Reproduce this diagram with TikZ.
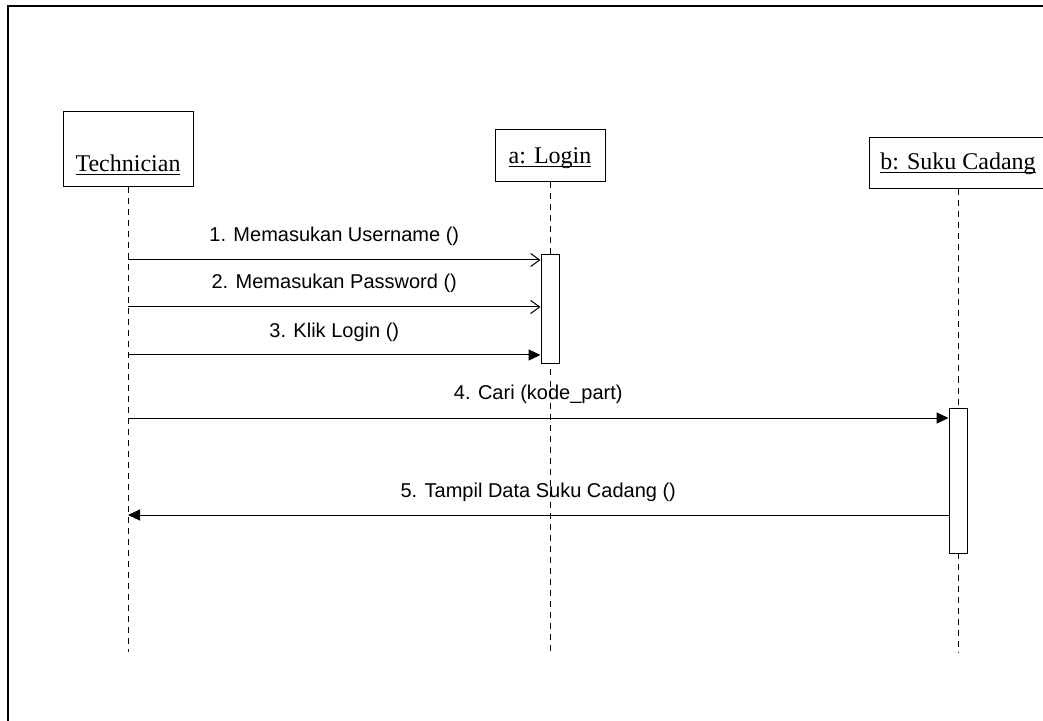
\documentclass[tikz,border=0pt]{standalone}
\usepackage{fontspec}
\setmainfont{Liberation Serif}
\setsansfont{Liberation Sans}
\usetikzlibrary{arrows.meta}
\tikzset{
    object/.style = {draw, fill=white, font=\fontsize{12}{14}\selectfont, inner xsep=3pt, inner ysep=3pt},
    lifeline/.style = {dash pattern=on 3pt off 2.5pt},
    activation/.style = {draw, fill=white, minimum width=9pt, inner sep=0pt},
    call/.style = {-{Triangle[length=6pt,width=5.5pt]}},
    callopen/.style = {-{Straight Barb[length=4.5pt,width=6.5pt]}},
    msglabel/.style = {midway, anchor=base, yshift=9pt, font=\sffamily\fontsize{10}{12}\selectfont}
}
% underline at a fixed depth, through the descenders
\newcommand{\objname}[1]{\underline{\smash{#1}}}

\begin{document}
\begin{tikzpicture}[x=0.5pt, y=-0.5pt, line width=0.5pt]
    \useasboundingbox (0,0) rectangle (1043,721);
    \draw[line width=0.8pt] (8,721) -- (8,6) -- (1043,6);

    % objects
    \node[object, minimum width=65pt, text height=27pt, text depth=4.5pt] (tech) at (128,149) {\objname{Technician}};
    \node[object, minimum width=55pt, text height=14pt, text depth=6pt] (login) at (550,156) {\objname{a: Login}};
    \node[object, minimum width=89pt, text height=13pt, text depth=6.5pt] (suku) at (958,163.5) {\objname{b: Suku Cadang}};

    % lifelines
    \coordinate (tech end) at (128,652);
    \coordinate (login end) at (550,652);
    \coordinate (suku end) at (958,652);
    \draw[lifeline] (tech.south) -- (tech end);
    \draw[lifeline] (login.south) -- (login end);
    \draw[lifeline] (suku.south) -- (suku end);

    \node[activation, minimum height=54.5pt] (act1) at (550,309.5) {};
    \node[activation, minimum height=72.5pt] (act2) at (958,480.5) {};

    % messages
    \coordinate (m1) at (128,260);
    \coordinate (m2) at (128,307);
    \coordinate (m3) at (128,355);
    \coordinate (m4) at (128,418);
    \coordinate (m5) at (128,515);
    \draw[callopen] (m1) -- (m1 -| act1.west) node[msglabel] {1. Memasukan Username ()};
    \draw[callopen] (m2) -- (m2 -| act1.west) node[msglabel] {2. Memasukan Password ()};
    \draw[call] (m3) -- (m3 -| act1.west) node[msglabel] {3. Klik Login ()};
    \draw[call] (m4) -- (m4 -| act2.west) node[msglabel] {4. Cari (kode\_part)};
    \draw[call] (m5 -| act2.west) -- (m5) node[msglabel] {5. Tampil Data Suku Cadang ()};
\end{tikzpicture}
\end{document}
